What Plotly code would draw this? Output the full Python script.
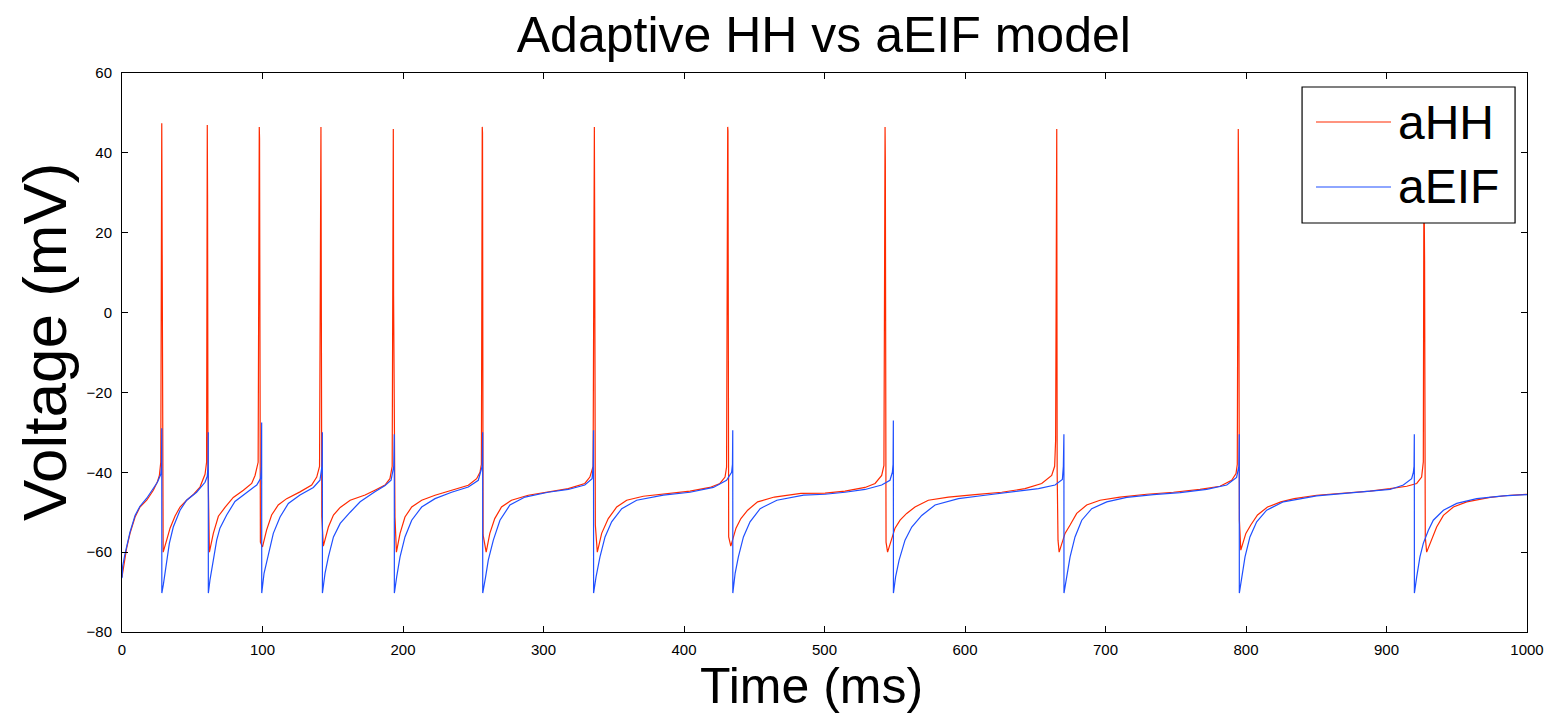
import plotly.graph_objects as go

# ---- data (time in ms, voltage in mV) ----
t_ahh = [0, 2.1, 3.3, 5.7, 9.3, 12.8, 17.6, 22.3, 25.2, 26.6, 27.6,
         28.3, 28.5, 28.9, 29.3, 31.8, 34.2, 37.7, 41.3, 46, 51, 55.5, 59.1, 60.2,
         60.7, 60.9, 61.2, 62.2, 65, 68.6, 73.3, 79.2, 86.4, 92.3, 94.7, 96.9,
         97.7, 97.9, 98.5, 100, 102.9, 106.5, 111.2, 117.2, 126.7, 135, 138.6, 140.6,
         141.6, 141.8, 142.2, 143.3, 146.9, 150.5, 155.3, 162.4, 170, 173, 180, 187.2, 190.7, 192.3,
         193.1, 193.3, 194.3, 195.3, 197.9, 201.4, 206.2, 213.3, 222.8, 234.6, 246.5, 252.4, 254.8, 255.8,
         256.4, 256.6, 257.0, 259.2, 261.8, 265.3, 270.1, 277.2, 289.1, 303.3, 317.6, 329.4, 333, 335.3,
         336.2, 336.4, 336.9, 338.3, 341.4, 346.1, 352.1, 359.2, 371, 387.7, 404.3, 418.4, 425.6, 429.2, 430.3,
         431.1, 431.3, 431.8, 433.3, 437, 440.5, 445.3, 452.4, 464.3, 483.2, 500.4, 514.6, 528.9, 536, 540.7, 542.3,
         543.1, 543.3, 543.8, 544.9, 550.2, 553.8, 558.5, 564.4, 573.9, 588.2, 607.1, 626.1, 642.7, 654.6, 661.7, 663.8, 664.5,
         665.3, 665.6, 666.2, 667.0, 671.2, 674.8, 679.5, 686.6, 696.1, 710.3, 729.3, 748.3, 767.3, 781.5, 789.8, 792.9, 793.8,
         794.5, 794.7, 795.3, 796.3, 799.9, 803.4, 808.2, 815.3, 824.8, 834.3, 850.3, 869.3, 888.3, 902.5, 914.4, 921.5, 925, 926.2,
         926.7, 926.9, 927.1, 927.6, 928.6, 932.2, 935.7, 940.5, 947.6, 957.1, 973.7, 988, 1000]
v_ahh = [-66.2, -61.2, -59, -55.3, -51.2, -48.7, -47, -44.5, -42.4, -40.8, -37.5,
         47.4, 2.0, -37.5, -60.0, -57, -54, -51, -48.7, -47, -45.5, -43.7, -40.5, -37.5,
         47.0, 29.5, -38, -60, -55.3, -51, -48.8, -46.3, -44.5, -42.8, -40.8, -37.5,
         46.5, 43.5, -57.5, -58.7, -54.5, -50.7, -48.2, -46.6, -44.9, -43.2, -41.2, -38.5,
         46.5, 2.0, -51, -58.5, -53.7, -50.7, -48.8, -47, -46.2, -45.7, -44.5, -43.2, -41.6, -38.5,
         46.0, 4.3, -51.2, -60, -55.3, -51.2, -48.7, -47, -45.75, -44.5, -43.25, -41.6, -40, -38,
         46.5, 45, -55.7, -60, -55.3, -51.6, -48.7, -47, -45.75, -45, -44.1, -42.8, -41.2, -38.5,
         46.5, 25, -53.2, -60, -55.3, -51.6, -48.7, -47, -46, -45.3, -44.7, -43.8, -42.8, -41.2, -38.7,
         46.5, 45.5, -56.2, -58.5, -54, -51.6, -49.5, -47.4, -46.2, -45.3, -45.2, -44.7, -43.8, -42.8, -40.8, -38.3,
         46.5, 37.5, -57.5, -60, -54, -52, -50.3, -48.7, -47, -46.2, -45.6, -45, -44.1, -42.8, -40.8, -38.5, -32,
         46.0, -40, -57, -60, -55.3, -53.2, -50.3, -48.2, -47, -46.2, -45.5, -45, -44.3, -43.5, -42, -40.3, -38,
         46.0, 34.5, -52, -59.5, -55.3, -53.2, -50.7, -48.7, -47.4, -46.6, -45.75, -45.2, -44.7, -44.1, -43.5, -42.8, -41.2, -37.4,
         46.0, 23, 13, -56.2, -60, -57, -53.7, -50.8, -48.7, -47.4, -46.3, -45.75, -45.5]

t_aeif = [0, 0.5, 2.1, 3.3, 5.7, 9.3, 12.8, 17.6, 22.3, 25.2, 27.6, 28.1,
          28.3, 28.35, 29.4, 30.6, 31.8, 33.7, 36.5, 41.3, 46, 53.1, 59.1, 60.7, 61.2,
          61.4, 61.45, 62.6, 65, 67.4, 69.7, 74.5, 80.4, 88.7, 95.9, 98.7, 99.2,
          99.4, 99.45, 101.1, 104.2, 107.7, 112.5, 118.4, 126.7, 136.2, 140.9, 142.3,
          142.6, 142.65, 144.5, 146.9, 150.5, 155.3, 162.4, 169.5, 180, 187, 191.5, 193.4,
          193.8, 193.85, 195.5, 197.9, 201.4, 206.2, 213.3, 222.8, 234.6, 246.5, 253.6, 256.3,
          256.7, 256.75, 258.8, 260.7, 264.3, 269, 276.1, 286.8, 303.3, 317.6, 329.4, 334.6, 335.3,
          335.6, 335.65, 337.4, 340.2, 343.8, 348.5, 355.7, 366.3, 385.3, 404.3, 420.9, 430.3, 433.9, 434.5,
          434.7, 434.75, 436.4, 438.7, 442.3, 447, 454.2, 466.1, 485.1, 500.4, 514.6, 528.9, 540.7, 546.6, 548.3, 548.8,
          549, 549.05, 550.6, 553.1, 557.3, 562.1, 569.2, 578.7, 595.3, 614.3, 633.3, 652.3, 664.1, 669.3, 670,
          670.4, 670.45, 672.4, 674.8, 678.3, 683.1, 690.2, 700.9, 715.1, 734.1, 753.1, 772, 786.3, 793.3, 794.9,
          795.2, 795.25, 796.9, 799.3, 802.8, 807.6, 814.7, 826.6, 850.3, 869.3, 888.3, 902.5, 912, 917.9, 919.1, 919.6,
          919.8, 919.85, 921.5, 923.8, 926.2, 929.8, 933.3, 940.5, 950, 964.2, 983.2, 1000]
v_aeif = [-66.5, -63.5, -60.5, -58.5, -55, -50.8, -48.5, -46.5, -44.2, -42.5, -40.5, -38.5,
          -29, -70.25, -68.2, -65.3, -62, -57.8, -53.7, -49.5, -47, -45, -42.5, -41, -38.5,
          -30, -70.25, -67, -62, -57, -54, -50.7, -47.3, -45.2, -43.2, -41.5, -38.5,
          -27.5, -70.25, -65.3, -60.3, -55.3, -51.2, -47.8, -45.7, -43.8, -42, -38.5,
          -30, -70.25, -65.3, -61.2, -56.2, -52.8, -50, -47.4, -44.9, -43.4, -42, -38.5,
          -30.5, -70.25, -66.2, -61.2, -56.2, -52, -48.7, -46.6, -45, -43.7, -42, -38.5,
          -30, -70.25, -66.2, -62, -57, -52, -48.2, -46.2, -45, -44.3, -43.2, -41.6, -38.5,
          -29.5, -70.25, -66.2, -61.2, -56.2, -52.4, -49.1, -47, -45.7, -45, -43.8, -42, -40, -38,
          -29.5, -70.25, -65.3, -61.2, -56.2, -52.4, -49.1, -47, -45.7, -45.5, -45, -44.3, -43.2, -42, -40, -38,
          -27, -70.25, -66.2, -62, -57, -53.7, -50.8, -48.2, -46.6, -45.75, -45, -44.1, -43.2, -41.8, -38.5,
          -30.5, -70.25, -66.2, -61.2, -56.2, -52, -49.1, -47.4, -46.3, -45.6, -45.1, -44.3, -43.2, -41.3, -38.5,
          -30.5, -70.25, -66.2, -61.2, -56.2, -52.4, -49.5, -47.4, -45.9, -45.3, -44.7, -44.3, -43.2, -41.6, -40, -38.5,
          -30.5, -70.25, -66.2, -61.2, -57.8, -54.5, -52, -49.5, -47.8, -46.6, -45.9, -45.6]

x_ticks = [0, 100, 200, 300, 400, 500, 600, 700, 800, 900, 1000]
y_ticks = [-80, -60, -40, -20, 0, 20, 40, 60]
series_names = ["aHH", "aEIF"]
series_colors = ["#ff2a00", "#1f4fff"]

FONT = "Liberation Sans, Arial, Helvetica, sans-serif"

fig = go.Figure()
fig.add_trace(go.Scatter(x=t_ahh, y=v_ahh, mode="lines", name=series_names[0],
                         line=dict(color=series_colors[0], width=1.2), showlegend=False))
fig.add_trace(go.Scatter(x=t_aeif, y=v_aeif, mode="lines", name=series_names[1],
                         line=dict(color=series_colors[1], width=1.2), showlegend=False))

axis_common = dict(showline=True, linecolor="black", linewidth=1, mirror="ticks",
                   ticks="inside", ticklen=6, tickcolor="black", showgrid=False,
                   zeroline=False, automargin=False, ticklabeloverflow="allow",
                   tickfont=dict(family=FONT, size=15, color="black"))

# ---- legend box drawn in paper coordinates (MATLAB-style legend) ----
shapes = [dict(type="rect", xref="paper", yref="paper", x0=0.8399, x1=0.9915,
               y0=0.7317, y1=0.975, line=dict(color="black", width=1.2),
               fillcolor="white", layer="above")]
annotations = []
for i, (nm, col) in enumerate(zip(series_names, series_colors)):
    yy = [0.9123, 0.7961][i]
    shapes.append(dict(type="line", xref="paper", yref="paper", x0=0.8498, x1=0.9032,
                       y0=yy, y1=yy, line=dict(color=col, width=1.2), layer="above"))
    annotations.append(dict(text=nm, xref="paper", yref="paper", x=0.9070, y=yy,
                            xanchor="left", yanchor="middle", showarrow=False,
                            font=dict(family=FONT, size=48, color="black")))

# axis titles placed as in the reference
annotations.append(dict(text="Time (ms)", xref="paper", yref="paper", x=0.491, y=-0.0966,
                        xanchor="center", yanchor="middle", showarrow=False,
                        font=dict(family=FONT, size=50, color="black")))
annotations.append(dict(text="Voltage (mV)", xref="paper", yref="paper", x=-0.0548, y=0.519,
                        xanchor="center", yanchor="middle", showarrow=False, textangle=-90,
                        font=dict(family=FONT, size=62, color="black")))

fig.update_layout(
    width=1541, height=709,
    margin=dict(l=114, r=22, t=65, b=85),
    paper_bgcolor="white", plot_bgcolor="white",
    title=dict(text="Adaptive HH vs aEIF model", x=0.5294, xanchor="center",
               y=0.962, yanchor="middle",
               font=dict(family=FONT, size=50, color="black")),
    xaxis=dict(range=[0, 1000], tickvals=x_ticks, ticklabelstandoff=4, **axis_common),
    yaxis=dict(range=[-80, 60], tickvals=y_ticks, ticklabelstandoff=6, **axis_common),
    shapes=shapes,
    annotations=annotations,
    showlegend=False,
)

fig.write_html("out.html")
